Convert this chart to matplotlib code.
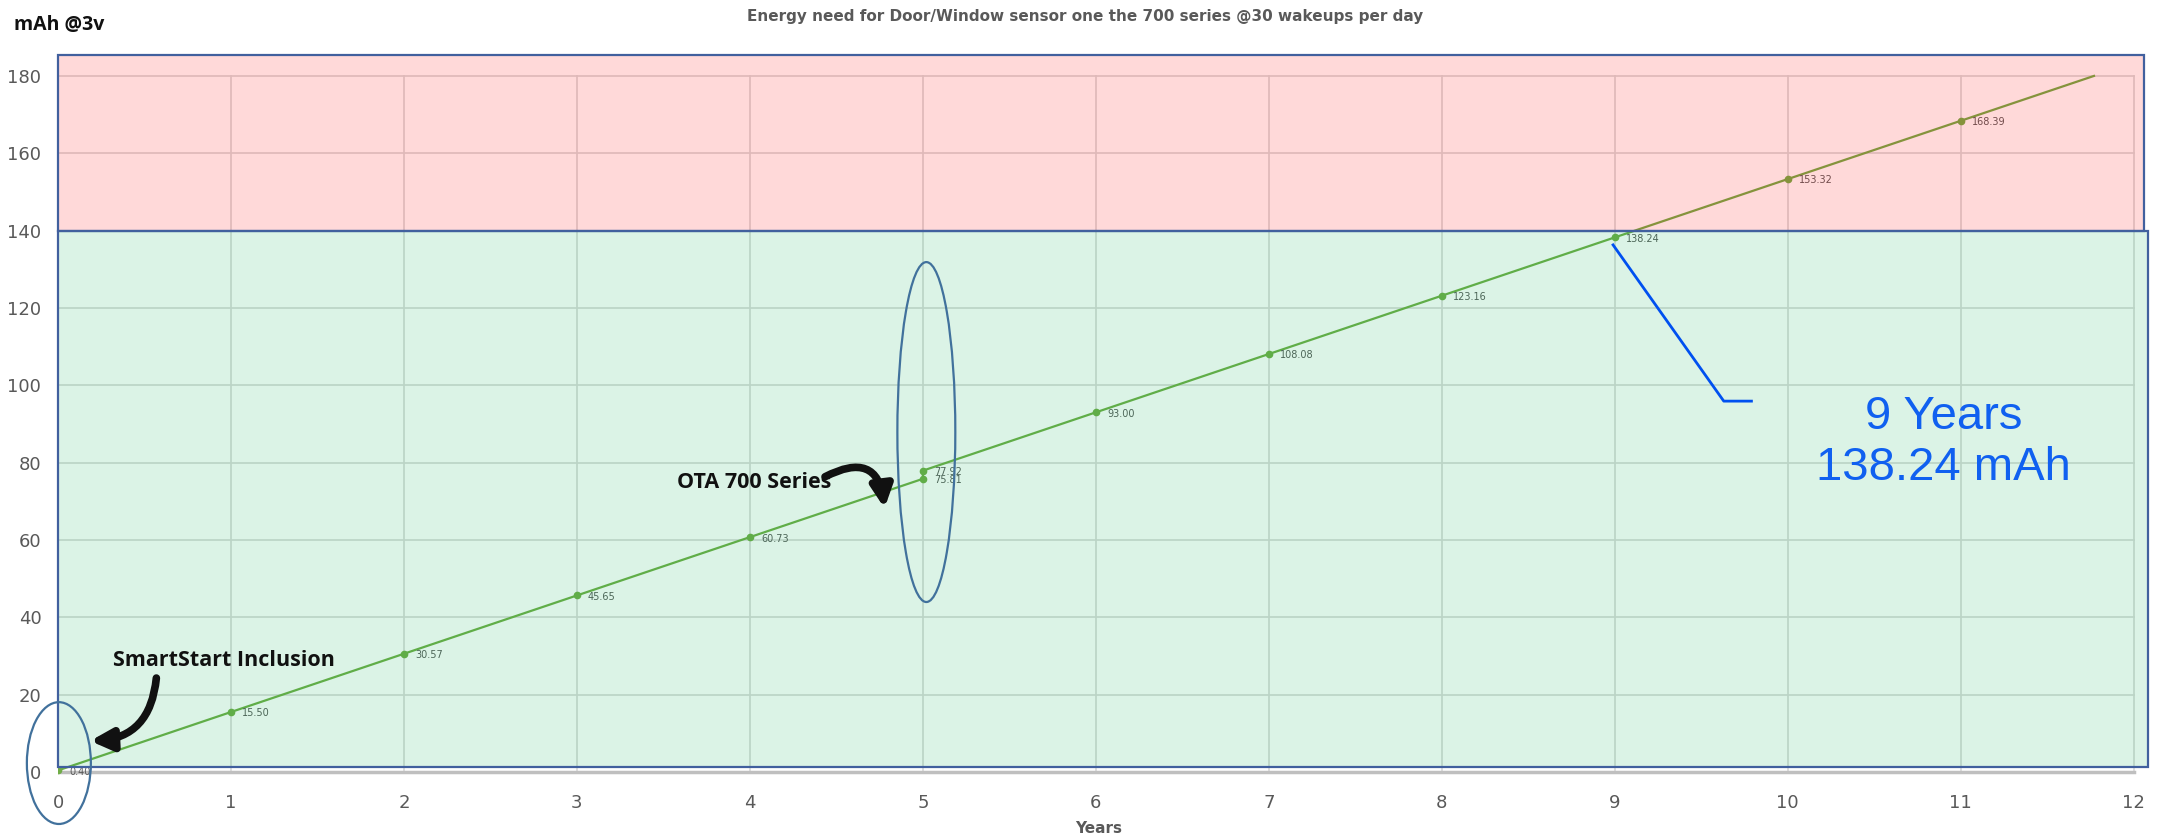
import matplotlib
matplotlib.use("Agg")
import matplotlib.pyplot as plt
from matplotlib.patches import Rectangle, Ellipse
import numpy as np

# data
years = [0, 1, 2, 3, 4, 5, 5, 6, 7, 8, 9, 10, 11]
mah = [0.40, 15.50, 30.57, 45.65, 60.73, 75.81, 77.92, 93.00, 108.08, 123.16, 138.24, 153.32, 168.39]
x_ticks = list(range(0, 13))
y_ticks = list(range(0, 181, 20))
limit_mah = 140
y_max = 180

title = "Energy need for Door/Window sensor one the 700 series @30 wakeups per day"
line_green = "#70AD47"
frame_blue = "#41609E"
grey = "#595959"

fig = plt.figure(figsize=(21.66, 8.39), dpi=100)
ax = fig.add_axes([0.02678, 0.07068, 0.9663, 0.8665])
ax.set_xlim(0, 12.1)
ax.set_ylim(-2, 186)
for s in ax.spines.values():
    s.set_visible(False)

# excel style grid
for xv in x_ticks:
    ax.plot([xv, xv], [0, y_max], color="#D9D9D9", lw=1.2, zorder=1)
for yv in y_ticks[1:]:
    ax.plot([0, x_ticks[-1]], [yv, yv], color="#D9D9D9", lw=1.2, zorder=1)
ax.plot([0, x_ticks[-1]], [0, 0], color="#BFBFBF", lw=2.5, zorder=1)

ax.set_xticks(x_ticks)
ax.set_yticks(y_ticks)
ax.tick_params(length=0, labelsize=13, labelcolor=grey)
ax.tick_params(axis="y", pad=12)
ax.tick_params(axis="x", pad=10)

# series + extension to the top of the axis
yrs = np.array(years, dtype=float)
vals = np.array(mah)
slope = vals[-1] - vals[-2]
x_end = yrs[-1] + (y_max - vals[-1]) / slope
ax.plot(np.append(yrs, x_end), np.append(vals, y_max), color=line_green, lw=1.6, zorder=2)
ax.plot(yrs, vals, "o", color=line_green, ms=4.5, zorder=3)
for xv, yv in zip(years, mah):
    ax.annotate(f"{yv:.2f}", (xv, yv), xytext=(8, -1), textcoords="offset points",
                fontsize=7, color=grey, va="center", zorder=3)

# overlay zones
ax.add_patch(Rectangle((0, limit_mah), 12.06, 45.4, facecolor=(1, 0, 0, 0.15),
                       edgecolor=frame_blue, lw=1.6, zorder=4, clip_on=False))
ax.add_patch(Rectangle((0, 1.2), 12.08, limit_mah - 1.2, facecolor=(0, 0.69, 0.31, 0.14),
                       edgecolor=frame_blue, lw=1.6, zorder=4, clip_on=False))

# hand drawn annotations
ax.add_patch(Ellipse((0.005, 2.3), 0.37, 31.5, fill=False, edgecolor="#41719C", lw=1.6,
                     zorder=6, clip_on=False))
ax.add_patch(Ellipse((5.02, 87.9), 0.335, 87.9, fill=False, edgecolor="#41719C", lw=1.6,
                     zorder=6, clip_on=False))

ax.text(0.32, 27.5, "SmartStart Inclusion", fontsize=15.5, fontweight="bold",
        family="Open Sans", color="#111111", zorder=7)
ax.annotate("", xy=(0.17, 8.0), xytext=(0.57, 25.0),
            arrowprops=dict(arrowstyle="-|>", lw=5.5, color="#111111", mutation_scale=32,
                            connectionstyle="arc3,rad=-0.45"), zorder=7)

ax.text(3.58, 73.5, "OTA 700 Series", fontsize=15.5, fontweight="bold",
        family="Open Sans", color="#111111", zorder=7)
ax.annotate("", xy=(4.78, 67.5), xytext=(4.42, 76.0),
            arrowprops=dict(arrowstyle="-|>", lw=5.5, color="#111111", mutation_scale=32,
                            connectionstyle="arc3,rad=-0.75"), zorder=7)

ax.plot([8.99, 9.63, 9.79], [136.3, 95.9, 95.9], color="#0050F0", lw=2, zorder=7)
ax.text(10.9, 85.3, "9 Years\n138.24 mAh", fontsize=34, color="#1060F0",
        family="Liberation Sans", ha="center", va="center", linespacing=1.2, zorder=7)

fig.text(0.501, 0.980, title, ha="center", va="center", fontsize=11,
         fontweight="bold", color=grey)
fig.text(0.0065, 0.970, "mAh @3v", ha="left", va="center", fontsize=14,
         fontweight="bold", color="#111111", family="Open Sans")
fig.text(0.507, 0.012, "Years", ha="center", va="center", fontsize=11,
         fontweight="bold", color=grey)

fig.savefig("out.png", dpi=100)
